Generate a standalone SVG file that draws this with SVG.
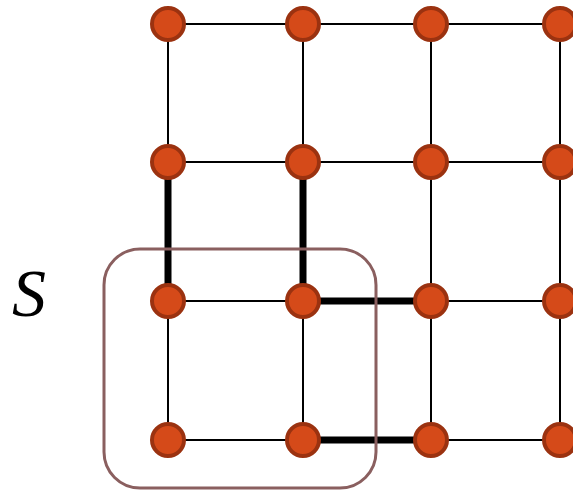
<svg xmlns="http://www.w3.org/2000/svg" width="573" height="491" viewBox="0 0 573 491">
  <style>
    .edge { stroke: #000; stroke-width: 2; stroke-linecap: butt; fill: none; }
    .heavy { stroke: #000; stroke-width: 7; fill: none; }
    .node { fill: #d54a19; stroke: #9b3210; stroke-width: 4; }
    .region { fill: none; stroke: #8a5f5f; stroke-width: 3; }
    .label { font-family: "Liberation Serif", "DejaVu Serif", serif; font-style: italic; font-size: 68px; fill: #000; }
  </style>
  <rect width="573" height="491" fill="#fff"/>

  <text class="label" x="12" y="316">S</text>

  <g id="connectors">
    <!-- horizontal edges -->
    <line class="edge" x1="168" y1="24" x2="560" y2="24"/>
    <line class="edge" x1="168" y1="162" x2="560" y2="162"/>
    <line class="edge" x1="168" y1="301" x2="303" y2="301"/>
    <line class="edge" x1="431" y1="301" x2="560" y2="301"/>
    <line class="edge" x1="168" y1="440" x2="303" y2="440"/>
    <line class="edge" x1="431" y1="440" x2="560" y2="440"/>
    <!-- vertical edges -->
    <line class="edge" x1="168" y1="24" x2="168" y2="162"/>
    <line class="edge" x1="168" y1="301" x2="168" y2="440"/>
    <line class="edge" x1="303" y1="24" x2="303" y2="162"/>
    <line class="edge" x1="303" y1="301" x2="303" y2="440"/>
    <line class="edge" x1="431" y1="24" x2="431" y2="440"/>
    <line class="edge" x1="560" y1="24" x2="560" y2="440"/>
    <!-- boundary edges -->
    <line class="heavy" x1="168" y1="162" x2="168" y2="301"/>
    <line class="heavy" x1="303" y1="162" x2="303" y2="301"/>
    <line class="heavy" x1="303" y1="301" x2="431" y2="301"/>
    <line class="heavy" x1="303" y1="440" x2="431" y2="440"/>
  </g>

  <rect id="S" class="region" x="104" y="249" width="272" height="239" rx="36" ry="36"/>

  <g id="n00"><circle class="node" cx="168" cy="24" r="16"/></g>
  <g id="n01"><circle class="node" cx="303" cy="24" r="16"/></g>
  <g id="n02"><circle class="node" cx="431" cy="24" r="16"/></g>
  <g id="n03"><circle class="node" cx="560" cy="24" r="16"/></g>
  <g id="n10"><circle class="node" cx="168" cy="162" r="16"/></g>
  <g id="n11"><circle class="node" cx="303" cy="162" r="16"/></g>
  <g id="n12"><circle class="node" cx="431" cy="162" r="16"/></g>
  <g id="n13"><circle class="node" cx="560" cy="162" r="16"/></g>
  <g id="n20"><circle class="node" cx="168" cy="301" r="16"/></g>
  <g id="n21"><circle class="node" cx="303" cy="301" r="16"/></g>
  <g id="n22"><circle class="node" cx="431" cy="301" r="16"/></g>
  <g id="n23"><circle class="node" cx="560" cy="301" r="16"/></g>
  <g id="n30"><circle class="node" cx="168" cy="440" r="16"/></g>
  <g id="n31"><circle class="node" cx="303" cy="440" r="16"/></g>
  <g id="n32"><circle class="node" cx="431" cy="440" r="16"/></g>
  <g id="n33"><circle class="node" cx="560" cy="440" r="16"/></g>
</svg>
